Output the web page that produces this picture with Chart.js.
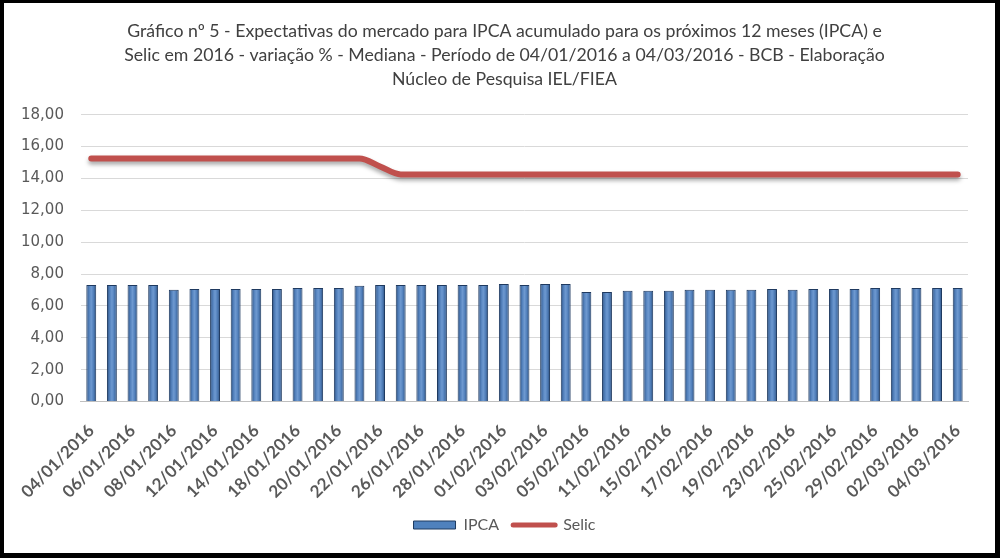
<!DOCTYPE html>
<html>
<head>
<meta charset="utf-8">
<script src="https://cdn.jsdelivr.net/npm/chart.js@4.4.1/dist/chart.umd.min.js"></script>
<style>
  html, body { margin: 0; padding: 0; background: #000; }
  #frame { position: absolute; left: 4px; top: 3px; width: 991px; height: 550px; background: #fff; }
  canvas { display: block; }
</style>
</head>
<body>
<div id="frame"><canvas id="myChart"></canvas></div>
<script>
// dias úteis de 04/01/2016 a 04/03/2016
const labels = [
  "04/01/2016", "05/01/2016", "06/01/2016", "07/01/2016", "08/01/2016",
  "11/01/2016", "12/01/2016", "13/01/2016", "14/01/2016", "15/01/2016",
  "18/01/2016", "19/01/2016", "20/01/2016", "21/01/2016", "22/01/2016",
  "25/01/2016", "26/01/2016", "27/01/2016", "28/01/2016", "29/01/2016",
  "01/02/2016", "02/02/2016", "03/02/2016", "04/02/2016", "05/02/2016",
  "10/02/2016", "11/02/2016", "12/02/2016", "15/02/2016", "16/02/2016",
  "17/02/2016", "18/02/2016", "19/02/2016", "22/02/2016", "23/02/2016",
  "24/02/2016", "25/02/2016", "26/02/2016", "29/02/2016", "01/03/2016",
  "02/03/2016", "03/03/2016", "04/03/2016",
];

const ipca = [
  7.32, 7.32, 7.32, 7.32, 7.01,
  7.07, 7.07, 7.07, 7.07, 7.07,
  7.13, 7.13, 7.13, 7.26, 7.32,
  7.32, 7.32, 7.32, 7.32, 7.32,
  7.38, 7.32, 7.38, 7.38, 6.88,
  6.88, 6.95, 6.95, 6.95, 7.01,
  7.01, 7.01, 7.01, 7.07, 7.01,
  7.07, 7.07, 7.07, 7.13, 7.13,
  7.13, 7.13, 7.13,
];

const selic = [
  15.25, 15.25, 15.25, 15.25, 15.25,
  15.25, 15.25, 15.25, 15.25, 15.25,
  15.25, 15.25, 15.25, 15.25, 14.75,
  14.25, 14.25, 14.25, 14.25, 14.25,
  14.25, 14.25, 14.25, 14.25, 14.25,
  14.25, 14.25, 14.25, 14.25, 14.25,
  14.25, 14.25, 14.25, 14.25, 14.25,
  14.25, 14.25, 14.25, 14.25, 14.25,
  14.25, 14.25, 14.25,
];

const titleLines = [
  "Gráfico nº 5 - Expectativas do mercado para IPCA acumulado para os próximos 12 meses (IPCA) e",
  "Selic em 2016 - variação % - Mediana - Período de 04/01/2016 a 04/03/2016 - BCB - Elaboração",
  "Núcleo de Pesquisa IEL/FIEA",
];

const textGray = "#595959";

// colunas com degradê horizontal (efeito do Excel)
function barFill(context) {
  const chart = context.chart;
  const xs = chart.scales.x;
  if (!xs || context.dataIndex === undefined) return "#4F81BD";
  const cx = xs.getPixelForValue(context.dataIndex);
  if (!Number.isFinite(cx)) return "#4F81BD";
  const g = chart.ctx.createLinearGradient(cx - 5, 0, cx + 5, 0);
  g.addColorStop(0, "#2B4F80");
  g.addColorStop(0.3, "#5583BE");
  g.addColorStop(0.5, "#6E99D0");
  g.addColorStop(0.7, "#5583BE");
  g.addColorStop(1, "#2B4F80");
  return g;
}

// sombra por baixo da linha da Selic
const lineShadow = {
  id: "lineShadow",
  beforeDatasetDraw(chart, args) {
    if (args.index !== 1) return;
    chart.ctx.save();
    chart.ctx.shadowColor = "rgba(0, 0, 0, 0.35)";
    chart.ctx.shadowBlur = 4;
    chart.ctx.shadowOffsetY = 3;
  },
  afterDatasetDraw(chart, args) {
    if (args.index !== 1) return;
    chart.ctx.restore();
  },
};

const data = {
  labels: labels,
  datasets: [
    {
      type: "bar",
      label: "IPCA",
      data: ipca,
      order: 1,
      backgroundColor: barFill,
      borderColor: "#1F3A60",
      borderWidth: 1,
      barPercentage: 0.48,
      categoryPercentage: 1,
    },
    {
      type: "line",
      label: "Selic",
      data: selic,
      order: 0,
      borderColor: "#C0504D",
      backgroundColor: "#C0504D",
      borderWidth: 6,
      borderCapStyle: "round",
      borderJoinStyle: "round",
      pointRadius: 0,
      cubicInterpolationMode: "monotone",
      fill: false,
    },
  ],
};

const config = {
  type: "bar",
  data: data,
  plugins: [lineShadow],
  options: {
    responsive: true,
    maintainAspectRatio: false,
    animation: false,
    layout: {
      padding: { left: 10, right: 0, top: 0, bottom: 10 },
    },
    plugins: {
      title: {
        display: true,
        text: titleLines,
        color: "#404040",
        font: { family: "Lato", size: 17.7, weight: "normal", lineHeight: 1.33 },
        padding: { top: 17, bottom: 24 },
      },
      legend: {
        position: "bottom",
        labels: {
          color: textGray,
          font: { family: "Lato", size: 16 },
          usePointStyle: true,
          pointStyleWidth: 42,
          boxHeight: 8,
          padding: 14,
          sort: (a, b) => a.datasetIndex - b.datasetIndex,
          generateLabels: function (chart) {
            const items = Chart.defaults.plugins.legend.labels.generateLabels(chart);
            items.forEach(function (it) {
              if (it.datasetIndex === 0) {
                it.pointStyle = "rect";
                it.fillStyle = "#4F81BD";
                it.strokeStyle = "#1F3A60";
                it.lineWidth = 1;
              } else {
                it.pointStyle = "line";
                it.strokeStyle = "#C0504D";
                it.lineWidth = 5;
                it.lineCap = "round";
              }
            });
            return items;
          },
        },
      },
      tooltip: { enabled: false },
    },
    scales: {
      x: {
        offset: true,
        grid: { display: false },
        border: { display: true, color: "#BFBFBF", width: 1 },
        // os rótulos inclinados podem invadir a área do eixo y, como no Excel
        afterFit: function (scale) {
          scale.paddingLeft = 0;
          scale.paddingRight = 0;
          scale.height = scale.height - 10;
        },
        ticks: {
          autoSkip: false,
          maxRotation: 45,
          minRotation: 45,
          padding: 11,
          color: textGray,
          font: { family: "Lato", size: 17, weight: "bold" },
          callback: function (value, index) {
            return index % 2 === 0 ? labels[index] : "";
          },
        },
      },
      y: {
        min: 0,
        max: 18,
        grid: { color: "#D9D9D9", drawTicks: false },
        border: { display: false },
        afterFit: function (scale) {
          scale.width = scale.width - 10;
        },
        ticks: {
          stepSize: 2,
          padding: 17,
          color: textGray,
          font: { family: "DejaVu Sans", size: 15 },
          callback: function (value) {
            return value.toFixed(2).replace(".", ",");
          },
        },
      },
      // eixo vazio à direita só para reservar a margem
      yRight: {
        position: "right",
        grid: { display: false, drawTicks: false },
        border: { display: false },
        ticks: { display: false },
        afterFit: function (scale) {
          scale.width = 27;
        },
      },
    },
  },
};

const myChart = new Chart(document.getElementById("myChart"), config);
</script>
</body>
</html>
